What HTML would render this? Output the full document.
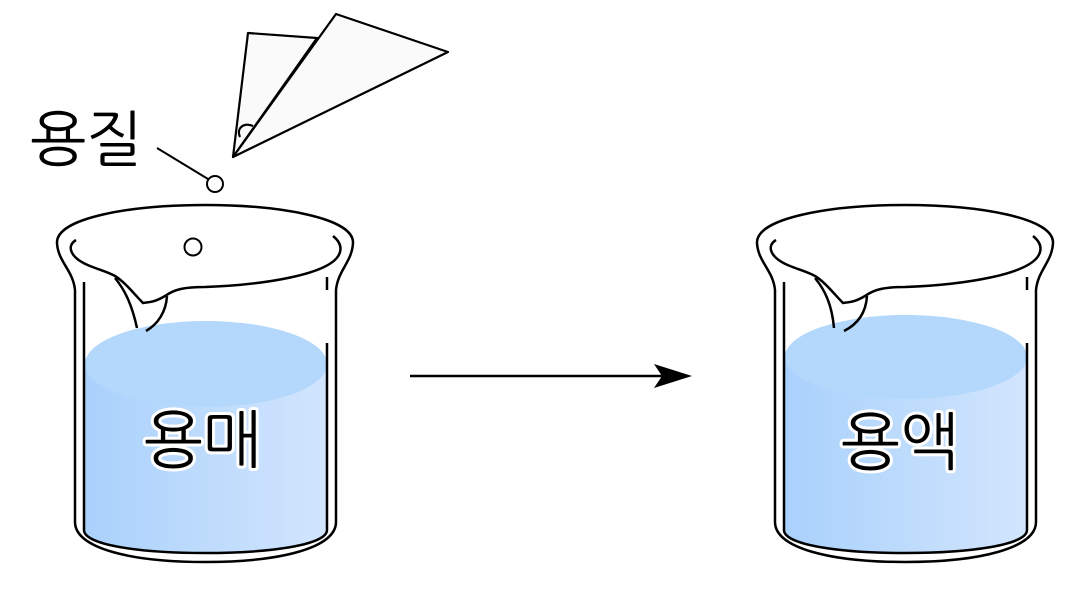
<!DOCTYPE html>
<html><head><meta charset="utf-8"><style>
html,body{margin:0;padding:0;background:#fff;width:1087px;height:590px;overflow:hidden}
text{font-family:"Liberation Sans","NanumGothic","Noto Sans CJK KR",sans-serif}
</style></head><body>
<svg width="1087" height="590" viewBox="0 0 1087 590" xmlns="http://www.w3.org/2000/svg">
<defs>
<linearGradient id="wg" x1="0" x2="1" y1="0" y2="0">
<stop offset="0" stop-color="#a9d1fc"/><stop offset="1" stop-color="#d2e5fd"/></linearGradient>
</defs>
<g stroke="#000" stroke-width="2.5" fill="none">
<path d="M75,290 C73,270 58,262 57,243 C56,218 130,205 205,205 C280,205 354,218 353,243 C352,262 338,270 336,290 L336,522 C336,548 280,562 205,562 C130,562 75,548 75,522 Z" fill="#fff"/>
<path d="M84,530 L84,365 C84,345 140,321 205,321 C270,321 327,345 327,365 L327,530 C327,545 270,553 205,553 C140,553 84,545 84,530 Z" fill="url(#wg)" stroke="none"/>
<ellipse cx="206" cy="364" rx="121" ry="43" fill="#b3d8fc" stroke="none"/>
<path d="M84,282 L84,530 C84,545 140,553 205,553 C270,553 327,545 327,530 L327,343"/>
<path d="M327,277 L327,290"/>
<path d="M76,240 C66,246 70,258 90,266 C100,270 108,272 115,276 C125,282 135,295 143,303 C150,302 155,302 165,296 C175,289 185,287 205,287 C260,285 334,275 340,252 C342,245 338,240 333,236"/>
<path d="M115,278 C125,290 132,305 137,328 M167,296 C166,312 158,324 146,331"/>
<circle cx="193" cy="247" r="8.5" fill="#fff" stroke-width="2"/>
</g>
<g stroke="#000" stroke-width="2.5" fill="none" transform="translate(700,0)">
<path d="M75,290 C73,270 58,262 57,243 C56,218 130,205 205,205 C280,205 354,218 353,243 C352,262 338,270 336,290 L336,522 C336,548 280,562 205,562 C130,562 75,548 75,522 Z" fill="#fff"/>
<path d="M84,530 L84,358 C84,338 140,315 205,315 C270,315 327,338 327,358 L327,530 C327,545 270,553 205,553 C140,553 84,545 84,530 Z" fill="url(#wg)" stroke="none"/>
<ellipse cx="206" cy="357" rx="121" ry="42" fill="#b3d8fc" stroke="none"/>
<path d="M84,282 L84,530 C84,545 140,553 205,553 C270,553 327,545 327,530 L327,343"/>
<path d="M327,277 L327,290"/>
<path d="M76,240 C66,246 70,258 90,266 C100,270 108,272 115,276 C125,282 135,295 143,303 C150,302 155,302 165,296 C175,289 185,287 205,287 C260,285 334,275 340,252 C342,245 338,240 333,236"/>
<path d="M115,278 C125,290 132,305 134,328 M167,296 C166,312 158,324 144,331"/>
</g>
<text x="203" y="462" font-size="63" text-anchor="middle" fill="#000" stroke="#fff" stroke-width="6" paint-order="stroke">용매</text>
<text x="900" y="464" font-size="63" text-anchor="middle" fill="#000" stroke="#fff" stroke-width="6" paint-order="stroke">용액</text>
<line x1="410" y1="376" x2="670" y2="376" stroke="#000" stroke-width="2.5"/>
<path d="M692,376 L654,364 L662,376 L654,388 Z" fill="#000"/>
<g stroke="#000" stroke-width="2.2" fill="#fafafa" stroke-linejoin="round">
<path d="M248,33 L317,38 L233,157 Z"/>
<path d="M336,14 L448,52 L233,157 Z"/>
<path d="M240,137 C236,128 244,122 253,126" fill="none"/>
</g>
<text x="30" y="160" font-size="60" fill="#000">용질</text>
<line x1="157" y1="148" x2="208" y2="179" stroke="#000" stroke-width="2"/>
<circle cx="215" cy="184" r="8" fill="#fff" stroke="#000" stroke-width="2"/>
</svg>
</body></html>
